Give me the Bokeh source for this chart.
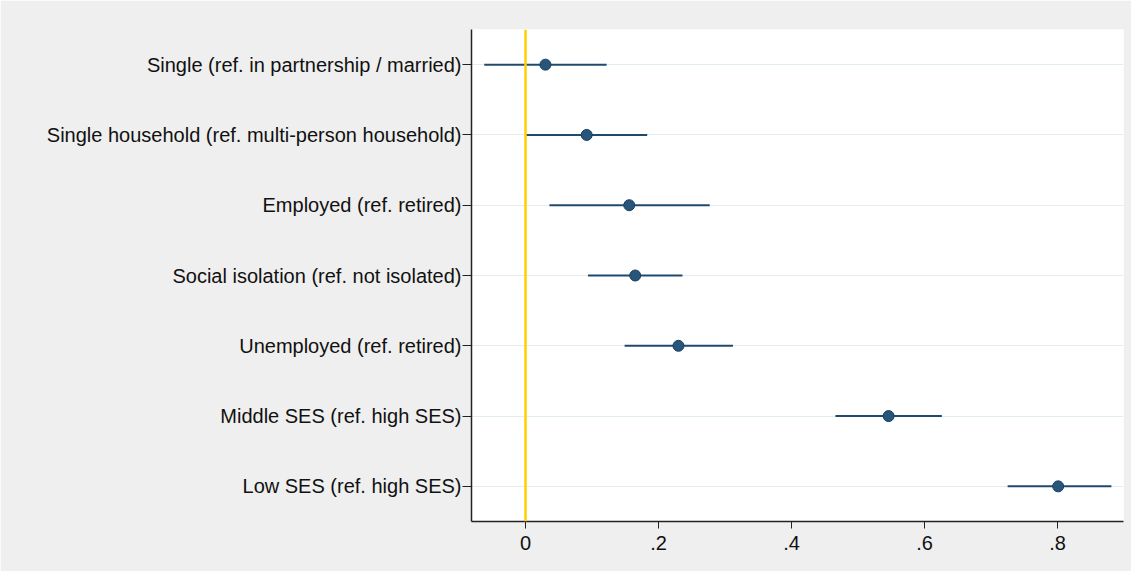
from bokeh.plotting import figure
from bokeh.models import ColumnDataSource, FixedTicker, Span, FactorRange, Range1d
from bokeh.embed import file_html
from bokeh.resources import INLINE

# ---- data (top to bottom as in the reference) ----
categories = [
    "Single (ref. in partnership / married)",
    "Single household (ref. multi-person household)",
    "Employed (ref. retired)",
    "Social isolation (ref. not isolated)",
    "Unemployed (ref. retired)",
    "Middle SES (ref. high SES)",
    "Low SES (ref. high SES)",
]
estimate = [0.030, 0.092, 0.156, 0.165, 0.230, 0.546, 0.801]
ci_low = [-0.062, 0.001, 0.036, 0.094, 0.149, 0.466, 0.725]
ci_high = [0.122, 0.183, 0.277, 0.236, 0.312, 0.626, 0.881]
x_ticks = [0, 0.2, 0.4, 0.6, 0.8]
x_tick_labels = ["0", ".2", ".4", ".6", ".8"]

src = ColumnDataSource(dict(cat=categories, est=estimate, lo=ci_low, hi=ci_high))

FONT = "Liberation Sans"
NAVY = "#28557a"

p = figure(
    width=1131, height=571,
    y_range=FactorRange(factors=list(reversed(categories))),
    x_range=Range1d(-0.0812, 0.8992),
    output_backend="svg", toolbar_location=None,
    min_border_left=471, min_border_right=8, min_border_top=29, min_border_bottom=50,
)
p.background_fill_color = "white"
p.border_fill_color = "#efefef"
p.outline_line_color = None

# grid
p.xgrid.grid_line_color = None
p.ygrid.grid_line_color = "#e3ecef"
p.ygrid.grid_line_width = 1.2

# zero reference line
p.add_layout(Span(location=0, dimension="height", line_color="#ffd000", line_width=2.5))

# CIs and points
p.segment(x0="lo", x1="hi", y0="cat", y1="cat", source=src, line_color="#1f4a6e", line_width=2)
p.scatter(x="est", y="cat", source=src, size=11, fill_color=NAVY, line_color="#183f60", line_width=1)

# x axis
p.xaxis.ticker = FixedTicker(ticks=x_ticks)
p.xaxis.major_label_overrides = {t: l for t, l in zip(x_ticks, x_tick_labels)}
p.xaxis.minor_tick_line_color = None
p.xaxis.major_tick_out = 7
p.xaxis.major_tick_in = 0
p.xaxis.axis_line_width = 1.5
p.xaxis.axis_line_color = "#222222"
p.xaxis.major_tick_line_color = "#222222"
p.xaxis.major_label_text_font = FONT
p.xaxis.major_label_text_font_size = "20px"
p.xaxis.major_label_text_color = "#111111"
p.xaxis.major_label_standoff = 7

# y axis
p.yaxis.major_tick_out = 9
p.yaxis.major_tick_in = 0
p.yaxis.axis_line_width = 1.5
p.yaxis.axis_line_color = "#222222"
p.yaxis.major_tick_line_color = "#222222"
p.yaxis.major_label_text_font = FONT
p.yaxis.major_label_text_font_size = "20px"
p.yaxis.major_label_text_color = "#111111"
p.yaxis.major_label_standoff = 1

open("out.html", "w").write(file_html(p, INLINE))
